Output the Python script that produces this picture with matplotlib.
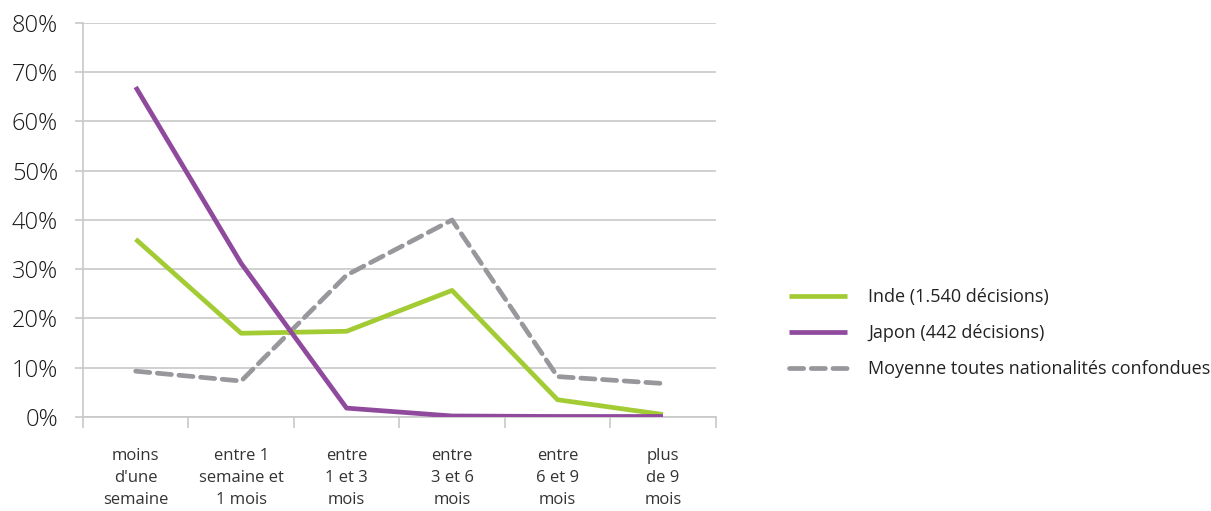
import matplotlib
matplotlib.use("Agg")
import matplotlib.pyplot as plt
from matplotlib.ticker import FixedLocator, NullFormatter

categories = ["moins\nd'une\nsemaine", "entre 1\nsemaine et\n1 mois", "entre\n1 et 3\nmois",
              "entre\n3 et 6\nmois", "entre\n6 et 9\nmois", "plus\nde 9\nmois"]
inde = [36.1, 17.0, 17.4, 25.7, 3.5, 0.5]
japon = [67.0, 31.2, 1.8, 0.2, 0.1, 0.1]
moyenne = [9.3, 7.3, 28.8, 40.0, 8.2, 6.8]
y_ticks = [0, 10, 20, 30, 40, 50, 60, 70, 80]

plt.rcParams['font.family'] = ['Open Sans', 'DejaVu Sans']

fig = plt.figure(figsize=(12.11, 5.11), dpi=100)
ax = fig.add_axes([0.0685, 0.184, 0.5225, 0.771])

x = list(range(len(categories)))
ax.plot(x, inde, color="#a2cb34", lw=3.4, label="Inde (1.540 décisions)", solid_capstyle="butt", zorder=3)
ax.plot(x, japon, color="#8f4a9d", lw=3.4, label="Japon (442 décisions)", solid_capstyle="butt", zorder=3)
ax.plot(x, moyenne, color="#98989c", lw=3.4, ls=(0, (3, 1.6)), label="Moyenne toutes nationalités confondues",
        dash_capstyle="round", zorder=2)

ax.set_xlim(-0.5, len(categories) - 0.5)
ax.set_ylim(0, 80)
ax.set_yticks(y_ticks)
ax.set_yticklabels([f"{v}%" for v in y_ticks], fontsize=17, color="#1a1a1a", fontweight="light")
ax.yaxis.grid(True, color="#c8c8c8", lw=1.2)
ax.set_axisbelow(True)

ax.xaxis.set_major_locator(FixedLocator([i - 0.5 for i in range(len(categories) + 1)]))
ax.xaxis.set_major_formatter(NullFormatter())
ax.xaxis.set_minor_locator(FixedLocator(x))
ax.set_xticklabels(categories, minor=True, fontsize=12, color="#333333", linespacing=1.5)
ax.tick_params(axis="x", which="minor", length=0, pad=22)
ax.tick_params(axis="x", which="major", length=8, color="#c8c8c8", width=1.2)
ax.tick_params(axis="y", length=6, color="#c8c8c8", width=1.2, pad=12)

for s in ["top", "right"]:
    ax.spines[s].set_visible(False)
for s in ["left", "bottom"]:
    ax.spines[s].set_color("#c8c8c8")
    ax.spines[s].set_linewidth(1.2)

leg = fig.legend(loc="center left", bbox_to_anchor=(0.638, 0.348), frameon=False, fontsize=13,
                 handlelength=3.2, handletextpad=1.2, labelspacing=1.0)
for t in leg.get_texts():
    t.set_color("#222222")

fig.savefig("out.png", dpi=100)
